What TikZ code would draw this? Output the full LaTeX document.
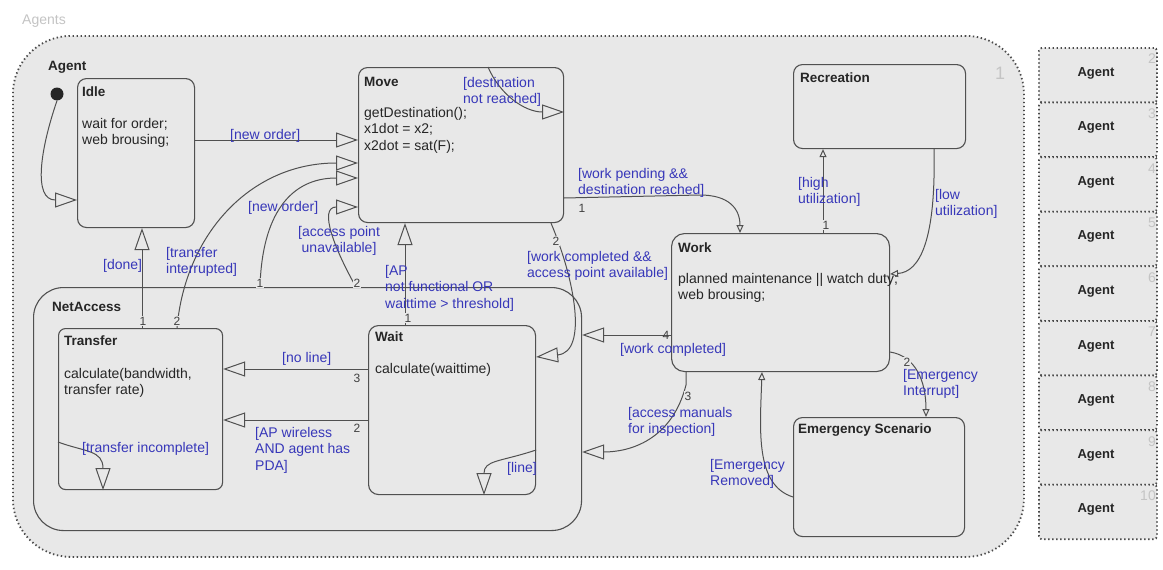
\documentclass[tikz,border=0pt]{standalone}
\usepackage{fontspec}
\setmainfont{Liberation Sans}
\usetikzlibrary{arrows.meta}
\definecolor{areafill}{HTML}{E8E8E8}
\definecolor{edgegray}{HTML}{505050}
\definecolor{dotgray}{HTML}{4A4A4A}
\definecolor{guardblue}{RGB}{55,55,185}
\definecolor{faint}{HTML}{C4C4C4}

\begin{document}
\begin{tikzpicture}[x=1pt,y=-1pt,
  state/.style={draw=edgegray, line width=1.1pt, rounded corners=9pt, inner sep=0pt, anchor=north west},
  dotbox/.style={draw=dotgray, line width=1.8pt, dash pattern=on 1.4pt off 2.6pt, fill=areafill, inner sep=0pt, anchor=north west},
  title/.style={font=\fontsize{13.5}{16}\selectfont\bfseries, text=black!85, anchor=west, inner sep=0pt},
  body/.style={font=\fontsize{14}{16.5}\selectfont, text=black!85, anchor=north west, align=left, inner sep=0pt},
  guard/.style={font=\fontsize{14}{16.5}\selectfont, text=guardblue, anchor=north west, align=left, inner sep=0pt},
  num/.style={font=\fontsize{12}{14}\selectfont, text=black!75, inner sep=0.6pt, fill=areafill},
  conn/.style={draw=edgegray, line width=1pt},
  bigtip/.tip={Triangle[open, length=22pt, width=15pt, line width=1pt]},
  smalltip/.tip={Triangle[open, length=8pt, width=7pt, line width=1pt]},
]
\useasboundingbox (0,0) rectangle (1163,570);
\fill[white] (0,0) rectangle (1163,570);

% population frame
\node[faint, font=\fontsize{14}{16}\selectfont, anchor=west, inner sep=0pt] (agentsLbl) at (22,21) {Agents};
\node[dotbox, rounded corners=58pt, minimum width=1011, minimum height=521] (area) at (12,35) {};
\node[faint, font=\fontsize{18}{20}\selectfont, inner sep=0pt] (idx1) at (1000,73) {1};

% replica column
\foreach \i [count=\k from 2] in {0,...,8} {
  \node[dotbox, rounded corners=3pt, minimum width=118, minimum height=54.6] (cell\k) at (1038,47+54.6*\i) {};
  \node[font=\fontsize{13}{15}\selectfont\bfseries, text=black!85, inner sep=0pt] (cellLbl\k) at (1096,47+54.6*\i+26) {Agent};
  \node[faint, font=\fontsize{14}{16}\selectfont, anchor=east, inner sep=0pt] (cellIdx\k) at (1156,47+54.6*\i+12) {\k};
}

% states
\node[title] (agentT) at (48,67) {Agent};
\node[circle, fill=black!85, minimum size=13pt, inner sep=0pt] (init) at (57,94) {};

\node[state, minimum width=117, minimum height=149] (idle) at (77,78) {};
\node[title] (idleT) at (82,92) {Idle};
\node[body] (idleB) at (82,118) {wait for order;\\web brousing;};

\node[state, minimum width=205, minimum height=155] (move) at (358,67) {};
\node[title] (moveT) at (364,82) {Move};
\node[body] (moveB) at (364,107) {getDestination();\\x1dot = x2;\\x2dot = sat(F);};

\node[state, minimum width=172, minimum height=84] (recreation) at (793,64) {};
\node[title] (recreationT) at (800,78) {Recreation};

\node[state, rounded corners=13pt, minimum width=218, minimum height=138] (work) at (671,233) {};
\node[title] (workT) at (678,248) {Work};
\node[body] (workB) at (678,273) {planned maintenance || watch duty;\\web brousing;};

\node[state, minimum width=171, minimum height=119] (emergency) at (793,417) {};
\node[title] (emergencyT) at (798,430) {Emergency Scenario};

\node[state, rounded corners=30pt, minimum width=548, minimum height=243] (netaccess) at (33,287) {};
\node[title] (netaccessT) at (52,307) {NetAccess};

\node[state, rounded corners=7pt, minimum width=164, minimum height=161] (transfer) at (58,328) {};
\node[title] (transferT) at (64,341) {Transfer};
\node[body] (transferB) at (64,368) {calculate(bandwidth,\\transfer rate)};

\node[state, rounded corners=10pt, minimum width=167, minimum height=169] (wait) at (368,325) {};
\node[title] (waitT) at (375,337) {Wait};
\node[body] (waitB) at (375,363) {calculate(waittime)};

% transitions
\draw[conn, -bigtip] (init.south) .. controls (40,150) and (33,200) .. (idle.west |- 0,200);
\draw[conn, -bigtip] (idle.east |- 0,140) -- (move.west |- 0,140);
\draw[conn, -bigtip] (move.north -| 488,0) .. controls (500,95) and (525,112) .. (move.east |- 0,112);
\draw[conn, -bigtip] (transfer.north -| 177,0) .. controls (185,235) and (250,163) .. (move.west |- 0,163);
\draw[conn, -bigtip] (netaccess.north -| 260,0) .. controls (262,215) and (290,178) .. (move.west |- 0,178);
\draw[conn, -bigtip] (netaccess.north -| 356,0) .. controls (335,250) and (318,207) .. (move.west |- 0,207);
\draw[conn, -bigtip] (transfer.north -| 142,0) -- (idle.south -| 142,0);
\draw[conn, -bigtip] (wait.north -| 405,0) -- (move.south -| 405,0);
\draw[conn, -bigtip] (move.south -| 551,0) .. controls (575,280) and (588,352) .. (wait.east |- 0,357);
\draw[conn, -bigtip] (wait.west |- 0,369) -- (transfer.east |- 0,369);
\draw[conn, -bigtip] (wait.west |- 0,420) -- (transfer.east |- 0,420);
\draw[conn, -bigtip] (transfer.west |- 0,442) .. controls (85,452) and (103,450) .. (transfer.south -| 103,0);
\draw[conn, -bigtip] (wait.east |- 0,450) .. controls (500,462) and (484,460) .. (wait.south -| 484,0);
\draw[conn, -smalltip] (move.east |- 0,198) -- (700,195) .. controls (728,195) and (740,208) .. (work.north -| 740,0);
\draw[conn, -bigtip] (work.west |- 0,335) -- (netaccess.east |- 0,335);
\draw[conn, -bigtip] (work.south -| 686,0) -- (686,385) .. controls (672,440) and (630,452) .. (netaccess.east |- 0,452);
\draw[conn, -smalltip] (work.north -| 823,0) -- (recreation.south -| 823,0);
\draw[conn, -smalltip] (recreation.south -| 934,0) .. controls (936,240) and (920,272) .. (work.east |- 0,274);
\draw[conn, -smalltip] (work.east |- 0,352) .. controls (915,356) and (926,380) .. (emergency.north -| 926,0);
\draw[conn, -smalltip] (emergency.west |- 0,497) .. controls (755,485) and (760,430) .. (work.south -| 762,0);

% guards
\node[guard] (gNewOrder) at (230,129) {[new order]};
\node[guard] (gDest) at (463,77) {[destination\\not reached]};
\node[guard] (gNewOrder2) at (248,201) {[new order]};
\node[guard, align=center] (gAccess) at (298,226) {[access point\\unavailable]};
\node[guard] (gInterrupted) at (166,247) {[transfer\\interrupted]};
\node[guard] (gDone) at (103,259) {[done]};
\node[guard] (gAP) at (385,265) {[AP\\not functional OR\\waittime > threshold]};
\node[guard] (gWorkAvail) at (527,251) {[work completed \&\&\\access point available]};
\node[guard] (gPending) at (578,168) {[work pending \&\&\\destination reached]};
\node[guard] (gHigh) at (798,177) {[high\\utilization]};
\node[guard] (gLow) at (935,189) {[low\\utilization]};
\node[guard] (gWorkDone) at (620,343) {[work completed]};
\node[guard] (gManuals) at (628,407) {[access manuals\\for inspection]};
\node[guard] (gEmIn) at (903,369) {[Emergency\\Interrupt]};
\node[guard] (gEmOut) at (710,459) {[Emergency\\Removed]};
\node[guard] (gNoLine) at (282,352) {[no line]};
\node[guard] (gWireless) at (255,427) {[AP wireless\\AND agent has\\PDA]};
\node[guard] (gIncomplete) at (82,442) {[transfer incomplete]};
\node[guard] (gLine) at (507,462) {[line]};

% transition priorities
\node[num] (p1) at (582,208) {1};
\node[num] (p2) at (556,241) {2};
\node[num] (p3) at (260,283) {1};
\node[num] (p4) at (357,283) {2};
\node[num] (p5) at (143,321) {1};
\node[num] (p6) at (177,321) {2};
\node[num] (p7) at (408,318) {1};
\node[num] (p8) at (357,378) {3};
\node[num] (p9) at (357,428) {2};
\node[num] (p10) at (826,225) {1};
\node[num] (p11) at (907,362) {2};
\node[num] (p12) at (688,396) {3};
\node[num, fill=none] (p13) at (666,335) {4};
\end{tikzpicture}
\end{document}
